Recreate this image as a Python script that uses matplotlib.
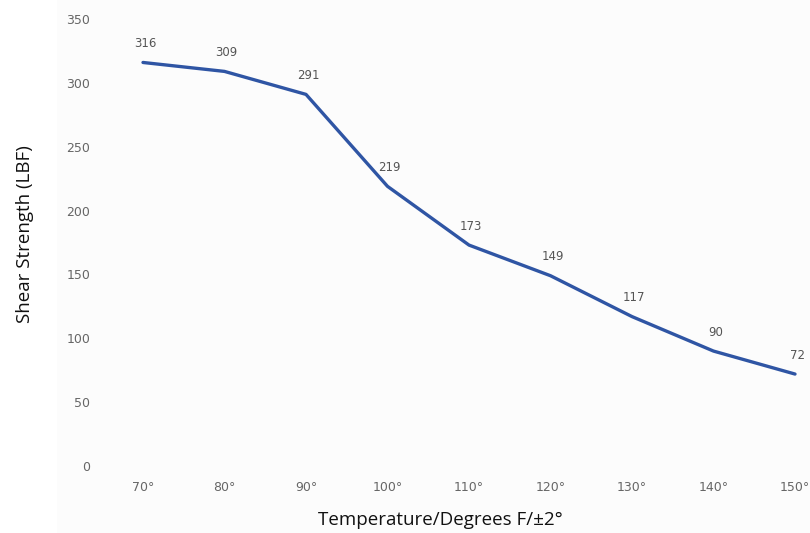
import matplotlib
matplotlib.use("Agg")
import matplotlib.pyplot as plt
from matplotlib.patches import Rectangle

temps = ["70°", "80°", "90°", "100°", "110°", "120°", "130°", "140°", "150°"]
strength = [316, 309, 291, 219, 173, 149, 117, 90, 72]
yticks = [0, 50, 100, 150, 200, 250, 300, 350]

W, H = 810, 533
fig = plt.figure(figsize=(W / 100, H / 100), dpi=100)
fig.patch.set_facecolor("white")

# faint panel behind the plot
fig.add_artist(Rectangle((57 / W, 0), 1 - 57 / W, 1, transform=fig.transFigure,
                         facecolor="#fcfcfc", edgecolor="none", zorder=0))

left, bottom = 105 / W, (H - 466) / H
ax = fig.add_axes([left, bottom, 1 - left, 466 / H])
ax.patch.set_alpha(0)

x = list(range(len(temps)))
ax.plot(x, strength, color="#2f55a4", linewidth=2.4, solid_joinstyle="round",
        solid_capstyle="round", zorder=3)

for xi, v in zip(x, strength):
    ax.annotate(str(v), (xi, v), xytext=(1.5, 13.5), textcoords="offset points",
                ha="center", va="center", fontsize=8.5, color="#555555")

ax.set_xlim((105 - 143) / 81.5, (810 - 143) / 81.5)
ax.set_ylim(0, 466 / 1.277)

ax.set_xticks(x)
ax.set_xticklabels(temps, fontsize=9, color="#666666")
ax.set_yticks(yticks)
ax.set_yticklabels([str(t) for t in yticks], fontsize=9, color="#666666")
ax.tick_params(axis="x", length=0, pad=11)
ax.tick_params(axis="y", length=0, pad=10.5)
for s in ax.spines.values():
    s.set_visible(False)

fig.text(25 / W, 1 - 234 / H, "Shear Strength (LBF)", rotation=90,
         ha="center", va="center", fontsize=13.5, family="Open Sans",
         color="#111111")
fig.text(440 / W, 1 - 520 / H, "Temperature/Degrees F/±2°",
         ha="center", va="center", fontsize=13.5, family="Open Sans",
         color="#111111")

fig.savefig("out.png", dpi=100)
